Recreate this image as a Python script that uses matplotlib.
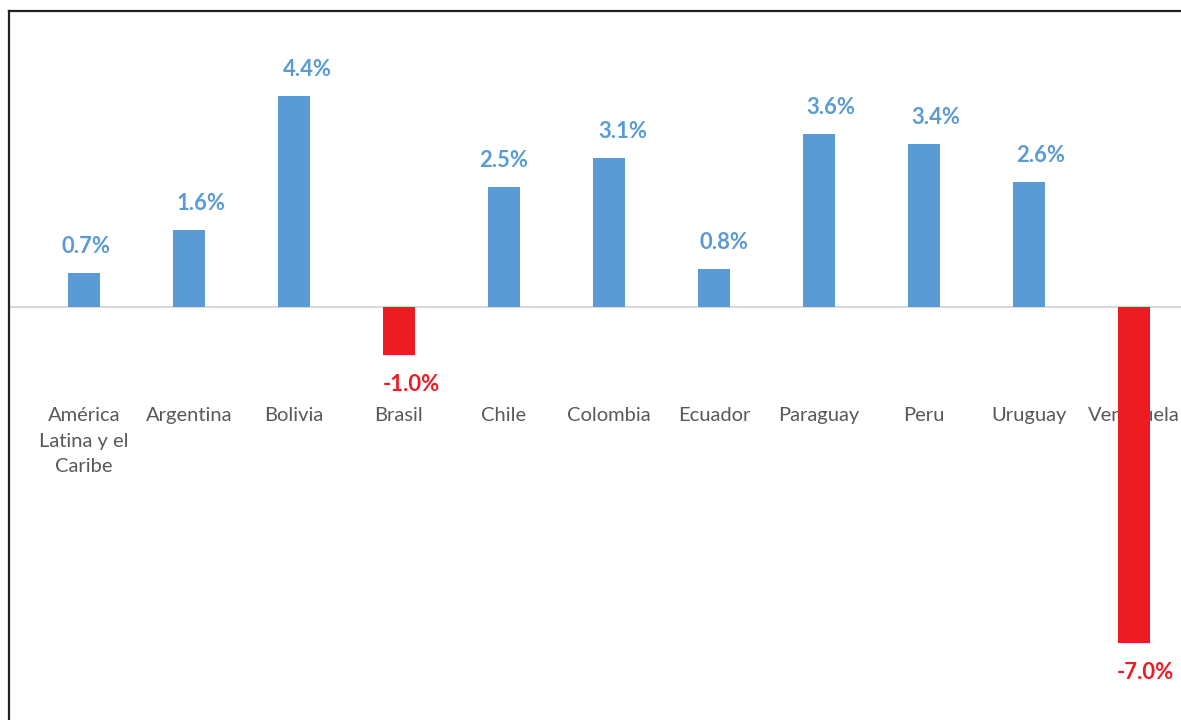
import matplotlib.pyplot as plt
from matplotlib.lines import Line2D

# data
countries = ["América\nLatina y el\nCaribe", "Argentina", "Bolivia", "Brasil", "Chile",
             "Colombia", "Ecuador", "Paraguay", "Peru", "Uruguay", "Venezuela"]
growth = [0.7, 1.6, 4.4, -1.0, 2.5, 3.1, 0.8, 3.6, 3.4, 2.6, -7.0]

# the value labels were nudged by hand in the original, not all centred (px)
label_dx = [2, 12, 13, 12, 0, 14, 10, 12, 12, 12, 11]

blue = "#5B9BD5"
red = "#ED1C24"
grey = "#595959"

plt.rcParams['font.family'] = ['Lato', 'DejaVu Sans']

fig = plt.figure(figsize=(11.81, 7.2), dpi=100)
ax = fig.add_axes([0, 0, 1, 1])

x = list(range(len(countries)))
colors = [blue if v >= 0 else red for v in growth]
ax.bar(x, growth, width=0.305, color=colors, zorder=3)

# zero line
ax.axhline(0, xmin=10 / 1181, xmax=1, color="#D9D9D9", lw=1.5, zorder=1)

# value labels
for xi, v, c, dx in zip(x, growth, colors, label_dx):
    off = 14.4 if v >= 0 else -25.9
    ax.annotate(f"{v:.1f}%", (xi, v), xytext=(dx * 0.72, off), textcoords="offset points",
                ha="center", va="baseline", fontsize=15.8, fontweight="bold",
                color=c, zorder=4)

# category labels (low position)
trans = ax.get_xaxis_transform()
for xi, name in zip(x, countries):
    ax.text(xi, 1 - 407 / 720, name, transform=trans, ha="center", va="top",
            fontsize=14.5, color=grey, linespacing=1.62, zorder=2)

ax.set_xlim(-0.8, 10.448)
ax.set_ylim(-(720 - 307) / 48, 307 / 48)
ax.axis("off")

# frame (left and top edges only visible)
lx = 8.5 / 1181
ty = 1 - 10.5 / 720
fig.add_artist(Line2D([lx, lx], [0, ty], color="#222222", lw=1.6, transform=fig.transFigure))
fig.add_artist(Line2D([lx, 1], [ty, ty], color="#222222", lw=1.6, transform=fig.transFigure))

fig.savefig("out.png", dpi=100)
